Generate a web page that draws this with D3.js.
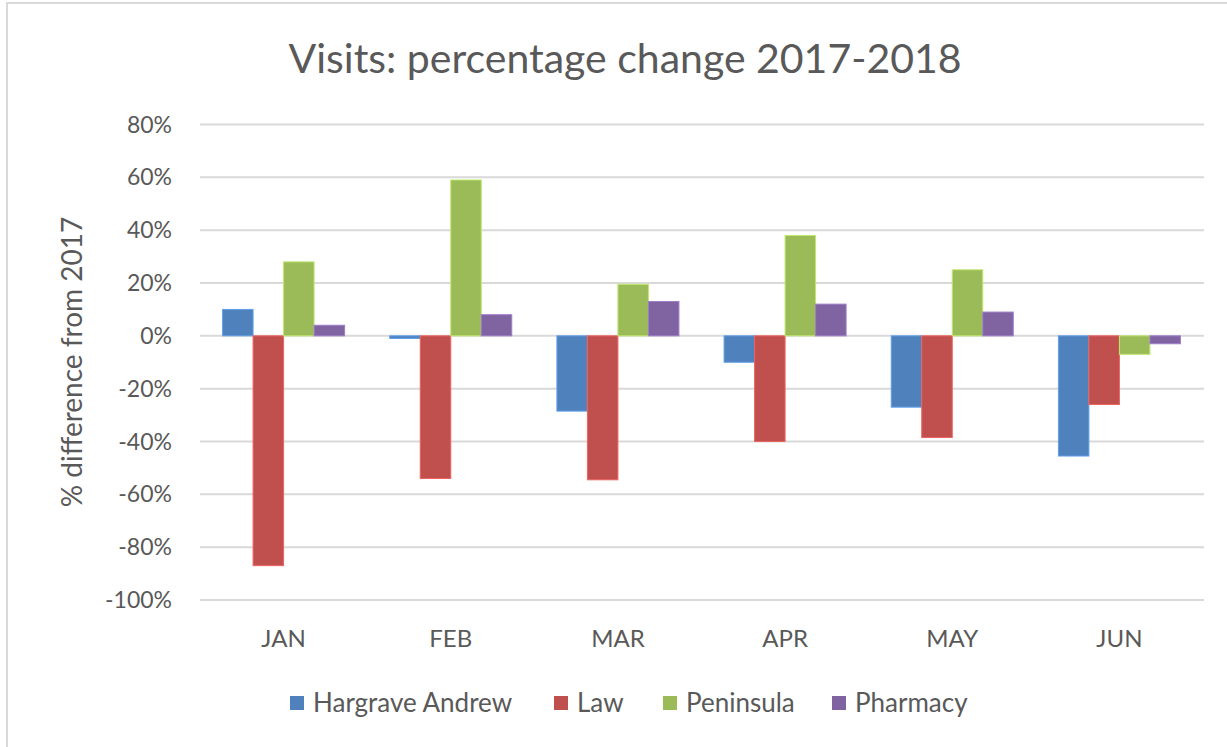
<!DOCTYPE html>
<html>
<head>
<meta charset="utf-8">
<script src="https://cdn.jsdelivr.net/npm/d3@7"></script>
<style>
  body { margin: 0; background: #fff; }
  svg text { font-family: Lato, "Open Sans", sans-serif; fill: #595959; }
</style>
</head>
<body>
<div id="chart"></div>
<script>
const months = ['JAN', 'FEB', 'MAR', 'APR', 'MAY', 'JUN'];
const series = ['Hargrave Andrew', 'Law', 'Peninsula', 'Pharmacy'];
const hargrave = [0.10, -0.01, -0.285, -0.10, -0.27, -0.455];
const law = [-0.87, -0.54, -0.545, -0.40, -0.385, -0.26];
const peninsula = [0.28, 0.59, 0.195, 0.38, 0.25, -0.07];
const pharmacy = [0.04, 0.08, 0.13, 0.12, 0.09, -0.03];
const yTicks = [0.8, 0.6, 0.4, 0.2, 0, -0.2, -0.4, -0.6, -0.8, -1.0];
const colours = ['#4F81BD', '#C0504D', '#9BBB59', '#8064A2'];

const width = 1227;
const height = 747;
const values = [hargrave, law, peninsula, pharmacy];

const svg = d3.select('#chart').append('svg')
  .attr('width', width)
  .attr('height', height);

// outer frame of the chart
svg.append('rect')
  .attr('x', 7).attr('y', 3)
  .attr('width', width + 10).attr('height', height + 10)
  .attr('fill', 'none')
  .attr('stroke', '#d9d9d9')
  .attr('stroke-width', 2);

const x0 = d3.scaleBand()
  .domain(months)
  .range([200, 1203]);

const x1 = d3.scaleBand()
  .domain(series)
  .range([0, x0.bandwidth()])
  .paddingOuter(0.74);

const y = d3.scaleLinear()
  .domain([-1.0, 0.8])
  .range([600, 124.5]);

// excel style percent, plain hyphen for negatives
const pct = d => Math.round(d * 100) + '%';

// gridlines
svg.append('g')
  .selectAll('line')
  .data(yTicks)
  .enter().append('line')
  .attr('x1', 200).attr('x2', 1204)
  .attr('y1', d => y(d)).attr('y2', d => y(d))
  .attr('stroke', '#d9d9d9')
  .attr('stroke-width', 2);

// y tick labels
svg.append('g')
  .selectAll('text')
  .data(yTicks)
  .enter().append('text')
  .attr('x', 172)
  .attr('y', d => y(d))
  .attr('dy', '0.35em')
  .attr('text-anchor', 'end')
  .style('font-size', '23px')
  .text(pct);

// bars
const groups = svg.append('g')
  .selectAll('g')
  .data(months)
  .enter().append('g')
  .attr('transform', d => `translate(${x0(d)},0)`);

groups.selectAll('rect')
  .data((m, i) => series.map((s, j) => ({ s: s, v: values[j][i], c: colours[j] })))
  .enter().append('rect')
  .attr('x', d => x1(d.s))
  .attr('width', x1.bandwidth())
  .attr('y', d => Math.min(y(d.v), y(0)))
  .attr('height', d => Math.abs(y(d.v) - y(0)))
  .attr('fill', d => d.c)
  .attr('stroke', d => d3.color(d.c).brighter(0.6))
  .attr('stroke-width', 1);

// category labels
svg.append('g')
  .selectAll('text')
  .data(months)
  .enter().append('text')
  .attr('x', d => x0(d) + x0.bandwidth() / 2)
  .attr('y', 647)
  .attr('text-anchor', 'middle')
  .style('font-size', '24px')
  .text(d => d);

// title
svg.append('text')
  .attr('x', 625)
  .attr('y', 73)
  .attr('text-anchor', 'middle')
  .style('font-size', '41px')
  .text('Visits: percentage change 2017-2018');

// y axis title
svg.append('text')
  .attr('transform', 'translate(82,362) rotate(-90)')
  .attr('text-anchor', 'middle')
  .style('font-size', '28px')
  .text('% difference from 2017');

// legend
const legendX = [290, 554, 663, 832];
const legend = svg.append('g')
  .selectAll('g')
  .data(series)
  .enter().append('g')
  .attr('transform', (d, i) => `translate(${legendX[i]},696)`);

legend.append('rect')
  .attr('width', 14).attr('height', 14)
  .attr('fill', (d, i) => colours[i]);

legend.append('text')
  .attr('x', 23).attr('y', 7)
  .attr('dy', '0.35em')
  .style('font-size', '26px')
  .text(d => d);
</script>
</body>
</html>
